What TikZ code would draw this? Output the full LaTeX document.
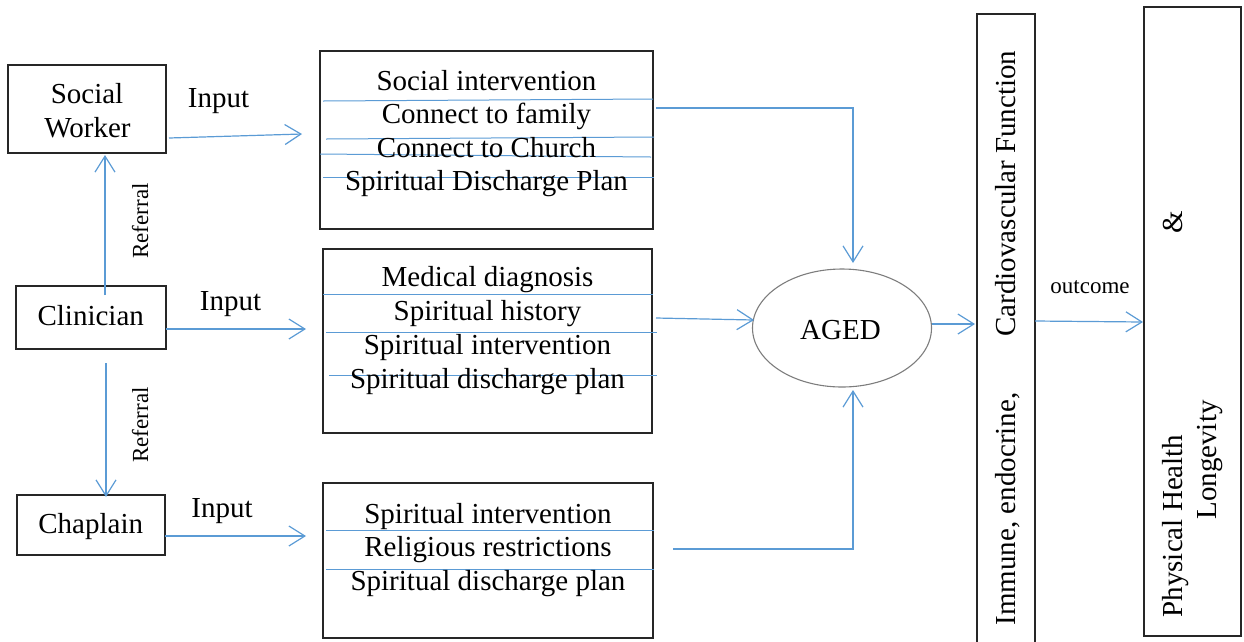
\documentclass[tikz,border=0pt]{standalone}
\usepackage{fontspec}
\setmainfont{Liberation Serif}
\usetikzlibrary{arrows.meta,shapes.geometric}
\definecolor{cblue}{RGB}{91,155,213}
\definecolor{cgray}{RGB}{125,125,125}
\begin{document}
\begin{tikzpicture}[x=1pt,y=-1pt,
  box/.style={draw=black!85, line width=1.2pt, inner sep=0pt, outer sep=0pt, rectangle},
  txt/.style={inner sep=0pt, anchor=base, font=\fontsize{29}{34}\selectfont},
  small/.style={inner sep=0pt, anchor=base, font=\fontsize{23}{27}\selectfont},
  link/.style={draw=cblue, line width=1.2pt},
  rule/.style={draw=cblue, line width=1pt},
  arr/.style={link, -{Straight Barb[length=16pt,width=20pt]}},
]
\useasboundingbox (0,0) rectangle (1244,641);

% boxes
\node[box, minimum width=158pt, minimum height=88pt] (sw) at (87,109) {};
\node[box, minimum width=150pt, minimum height=63pt] (cl) at (91,317.5) {};
\node[box, minimum width=148pt, minimum height=60pt] (ch) at (91,525) {};
\node[box, minimum width=333pt, minimum height=178pt] (tb) at (486.5,140) {};
\node[box, minimum width=329pt, minimum height=184pt] (mb) at (487.5,341) {};
\node[box, minimum width=330pt, minimum height=155pt] (bb) at (488,560.5) {};
\node[draw=cgray, line width=1.1pt, ellipse, inner sep=0pt, outer sep=0pt,
      minimum width=179pt, minimum height=118pt] (aged) at (842,328) {};
\node[box, minimum width=58pt, minimum height=646pt] (imm) at (1006,337) {};
\node[box, minimum width=97pt, minimum height=629pt] (phy) at (1192.5,321.5) {};

% rules inside the boxes
\draw[rule] (323,101) -- (653,99);
\draw[rule] (326,139) -- (654,137);
\draw[rule] (320,154) -- (651,157);
\draw[rule] (323,177) -- (654,177);
\draw[rule] (323,294) -- (653,294);
\draw[rule] (326,332) -- (657,332);
\draw[rule] (329,375) -- (657,375);
\draw[rule] (326,530) -- (654,530);
\draw[rule] (326,569) -- (654,569);

% texts
\node[txt] (tsw1) at (87,103) {Social};
\node[txt] (tsw2) at (87.5,137) {Worker};
\node[txt] (tcl) at (90.7,325) {Clinician};
\node[txt] (tch) at (90.7,533) {Chaplain};
\node[txt] (in1) at (218.5,107) {Input};
\node[txt] (in2) at (230.5,310) {Input};
\node[txt] (in3) at (222,517) {Input};
\node[small, rotate=90] (ref1) at (148,221) {Referral};
\node[small, rotate=90] (ref2) at (148,425) {Referral};

\node[txt] (t11) at (486.5,90) {Social intervention};
\node[txt] (t12) at (486.5,123.5) {Connect to family};
\node[txt] (t13) at (486.5,157) {Connect to Church};
\node[txt] (t14) at (486.5,190.5) {Spiritual Discharge Plan};

\node[txt] (t21) at (487.5,286) {Medical diagnosis};
\node[txt] (t22) at (487.5,320) {Spiritual history};
\node[txt] (t23) at (487.5,354) {Spiritual intervention};
\node[txt] (t24) at (487.5,388) {Spiritual discharge plan};

\node[txt] (t31) at (488,523) {Spiritual intervention};
\node[txt] (t32) at (488,556.5) {Religious restrictions};
\node[txt] (t33) at (488,590) {Spiritual discharge plan};

\node[txt] (tag) at (840.5,339) {AGED};
\node[small] (tout) at (1090,293) {outcome};

\node[txt, rotate=90] (timm) at (1015,509) {Immune, endocrine,};
\node[txt, rotate=90] (tcar) at (1015,193.5) {Cardiovascular Function};
\node[txt, rotate=90] (tph) at (1182,526) {Physical Health};
\node[txt, rotate=90] (tamp) at (1182,222) {\&};
\node[txt, rotate=90] (tlon) at (1216,460) {Longevity};

% connector end points
\coordinate (a1s) at (169,138); \coordinate (a1e) at (302,134);
\coordinate (a2s) at (166,329); \coordinate (a2e) at (306,329);
\coordinate (a3s) at (166,536); \coordinate (a3e) at (306,536);
\coordinate (r1s) at (105,295); \coordinate (r1e) at (105,155);
\coordinate (r2s) at (106,363); \coordinate (r2e) at (106,497);
\coordinate (c1s) at (656,108); \coordinate (c1e) at (853,263);
\coordinate (c2s) at (656,318); \coordinate (c2e) at (754,320);
\coordinate (c3s) at (673,549); \coordinate (c3e) at (853,390);
\coordinate (c4e) at (975,324);
\coordinate (c5e) at (1143,322);

% connectors
\draw[arr] (a1s) -- (a1e);
\draw[arr] (cl.east |- a2s) -- (a2e);
\draw[arr] (ch.east |- a3s) -- (a3e);
\draw[arr] (r1s) -- (r1e);
\draw[arr] (r2s) -- (r2e);
\draw[arr] (c1s) -| (c1e);
\draw[arr] (c2s) -- (c2e);
\draw[arr] (c3s) -| (c3e);
\draw[arr] (aged.east |- c4e) -- (c4e);
\draw[arr] (imm.east |- 0,321) -- (c5e);
\end{tikzpicture}
\end{document}
